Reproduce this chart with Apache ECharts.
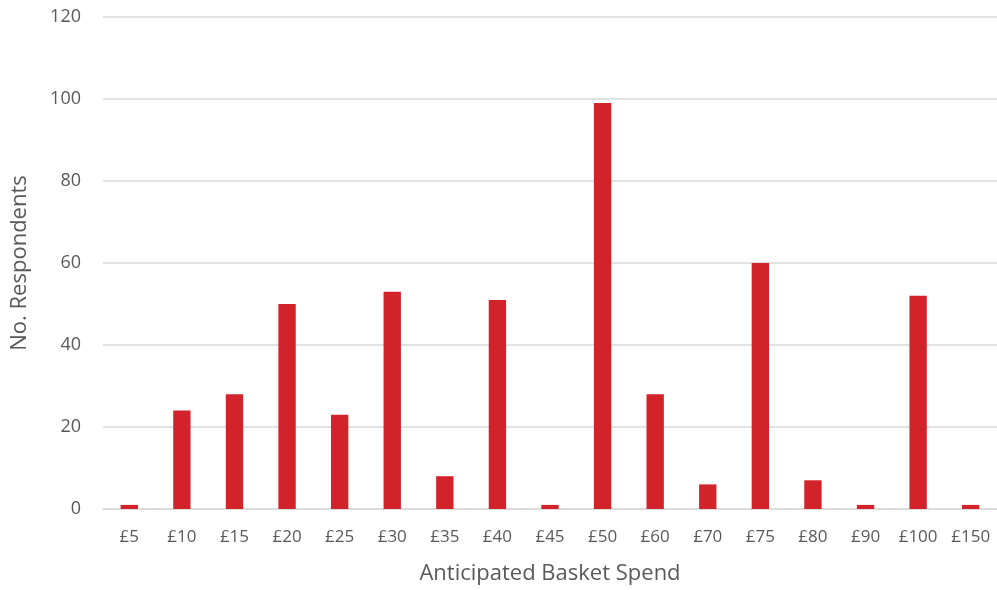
<!DOCTYPE html>
<html>
<head>
<meta charset="utf-8">
<style>
  html, body { margin: 0; padding: 0; background: #fff; }
  #chart { width: 997px; height: 590px; }
</style>
<script src="https://cdn.jsdelivr.net/npm/echarts@6/dist/echarts.min.js"></script>
</head>
<body>
<div id="chart"></div>
<script>
// Basket spend buckets and how many respondents chose each
const spendBuckets = ['£5', '£10', '£15', '£20', '£25', '£30', '£35', '£40', '£45', '£50', '£60', '£70', '£75', '£80', '£90', '£100', '£150'];
const respondents = [1, 24, 28, 50, 23, 53, 8, 51, 1, 99, 28, 6, 60, 7, 1, 52, 1];
const yTicks = { min: 0, max: 120, interval: 20 };

const chart = echarts.init(document.getElementById('chart'), null, { renderer: 'canvas' });
const font = '"Open Sans", "Liberation Sans", sans-serif';
const grey = '#595959';

chart.setOption({
  animation: false,
  grid: { left: 103, right: 0, top: 17, bottom: 78 },
  xAxis: {
    type: 'category',
    data: spendBuckets,
    name: 'Anticipated Basket Spend',
    nameLocation: 'middle',
    nameGap: 54,
    nameTextStyle: { fontFamily: font, fontSize: 22, color: grey },
    axisLine: { lineStyle: { color: '#d9d9d9', width: 1.5 } },
    axisTick: { show: false },
    axisLabel: { interval: 0, hideOverlap: false, fontFamily: font, fontSize: 17, color: grey, margin: 20 }
  },
  yAxis: {
    type: 'value',
    min: yTicks.min,
    max: yTicks.max,
    interval: yTicks.interval,
    name: 'No. Respondents',
    nameLocation: 'middle',
    nameGap: 72,
    nameTextStyle: { fontFamily: font, fontSize: 22, color: grey },
    axisLine: { show: false },
    axisTick: { show: false },
    axisLabel: { fontFamily: font, fontSize: 18, color: grey, margin: 22 },
    splitLine: { lineStyle: { color: '#d9d9d9', width: 1.5 } }
  },
  series: [{
    type: 'bar',
    data: respondents,
    barWidth: '33%',
    itemStyle: { color: '#d2232a' }
  }]
});
</script>
</body>
</html>
